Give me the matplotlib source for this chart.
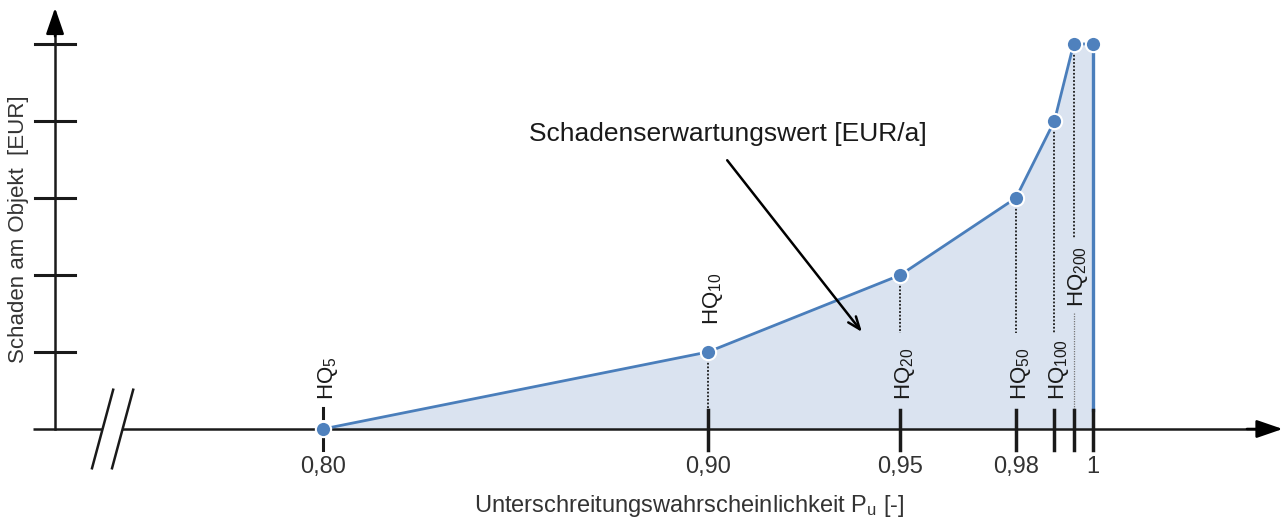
import matplotlib
matplotlib.use("Agg")
import matplotlib.pyplot as plt

plt.rcParams['font.family'] = ['Liberation Sans', 'DejaVu Sans']
plt.rcParams['mathtext.default'] = 'regular'

# data
p_values = [0.80, 0.90, 0.95, 0.98, 0.99, 0.995, 1.0]
damage = [0, 1, 2, 3, 4, 5, 5]
hq_labels = ['HQ$_{5}$', 'HQ$_{10}$', 'HQ$_{20}$', 'HQ$_{50}$', 'HQ$_{100}$', 'HQ$_{200}$']
tick_labels = ['0,80', '0,90', '0,95', '0,98', '', '', '1']
y_ticks = [1, 2, 3, 4, 5]

BLUE = '#4a7ebb'
FILL = '#dae3f0'
INK = '#1a1a1a'

fig = plt.figure(figsize=(12.85, 5.2), dpi=100)
ax = fig.add_axes([0, 0, 1, 1])
ax.set_xlim(0.7161, 1.0499)
ax.set_ylim(-1.182, 5.571)
ax.axis('off')

# axes with break and arrows
y_axis_x = 0.7304
ax.plot([0.7247, 0.7426], [0, 0], color=INK, lw=1.8, solid_capstyle='butt')
ax.plot([0.7478, 1.0435], [0, 0], color=INK, lw=1.8, solid_capstyle='butt')
ax.annotate('', xy=(1.0493, 0), xytext=(1.040, 0),
            arrowprops=dict(arrowstyle='-|>,head_length=1.6,head_width=0.55',
                            color='black', lw=1.8, shrinkA=0, shrinkB=0))
ax.plot([y_axis_x, y_axis_x], [0, 5.2], color=INK, lw=1.8)
ax.annotate('', xy=(y_axis_x, 5.47), xytext=(y_axis_x, 5.1),
            arrowprops=dict(arrowstyle='-|>,head_length=1.6,head_width=0.55',
                            color='black', lw=1.8, shrinkA=0, shrinkB=0))
for yt in y_ticks:
    ax.plot([y_axis_x - 0.0052, y_axis_x + 0.0052], [yt, yt], color=INK, lw=2.2)
# break marks
for off in (0.0, 0.0052):
    ax.plot([0.7400 + off, 0.7455 + off], [-0.51, 0.51], color=INK, lw=1.8)

ax.text(0.7209, 2.6, 'Schaden am Objekt  [EUR]', rotation=90, ha='center', va='center',
        fontsize=16, color='#333333')

# filled area and curve
ax.fill_between(p_values, damage, 0, color=FILL, lw=0)
ax.plot(p_values, damage, color=BLUE, lw=2.0, zorder=3)
ax.plot([p_values[-1], p_values[-1]], [damage[-1], 0.25], color=BLUE, lw=2.4, zorder=3)

# x ticks
for p, lab in zip(p_values, tick_labels):
    if p == p_values[0]:
        # dashed tick behind the first marker
        ax.plot([p, p], [0.14, 0.27], color=INK, lw=2.2, zorder=2)
        ax.plot([p, p], [-0.11, -0.27], color=INK, lw=2.2, zorder=2)
    else:
        ax.plot([p, p], [-0.27, 0.25], color=INK, lw=2.5, zorder=4)
    if lab:
        ax.text(p, -0.50, lab, ha='center', va='center', fontsize=17, color='#333333')

# dotted drop lines
drop_bottom = [None, 0.25, 1.25, 1.25, 1.25, 2.48]
for p, d, b in zip(p_values[:-1], damage[:-1], drop_bottom):
    if b is not None:
        ax.plot([p, p], [d, b], color=INK, lw=1.3, ls=(0, (1, 1)), zorder=2)
ax.plot([p_values[5], p_values[5]], [1.5, 0.25], color='#777777', lw=0.9, ls=(0, (1, 1)), zorder=2)

# markers
ax.plot(p_values, damage, 'o', ms=11, mfc='#4f81bd', mec='white', mew=1.5, zorder=5)

# HQ labels
label_bottom = [0.37, 1.35, 0.37, 0.37, 0.37, 1.59]
for p, lab, b in zip(p_values[:-1], hq_labels, label_bottom):
    ax.text(p + 0.0012, b, lab, rotation=90, ha='center', va='bottom',
            fontsize=16, color=INK, zorder=6)

# annotation
ax.text(0.9052, 3.83, 'Schadenserwartungswert [EUR/a]', ha='center', va='center',
        fontsize=19, color=INK)
ax.annotate('', xy=(0.9400, 1.26), xytext=(0.9050, 3.49),
            arrowprops=dict(arrowstyle='->,head_length=0.9,head_width=0.35',
                            color='black', lw=1.8, shrinkA=0, shrinkB=0))

ax.text(0.8951, -1.00, 'Unterschreitungswahrscheinlichkeit P$_{u}$ [-]', ha='center', va='center',
        fontsize=17, color='#333333')

fig.savefig('out.png', dpi=100)
